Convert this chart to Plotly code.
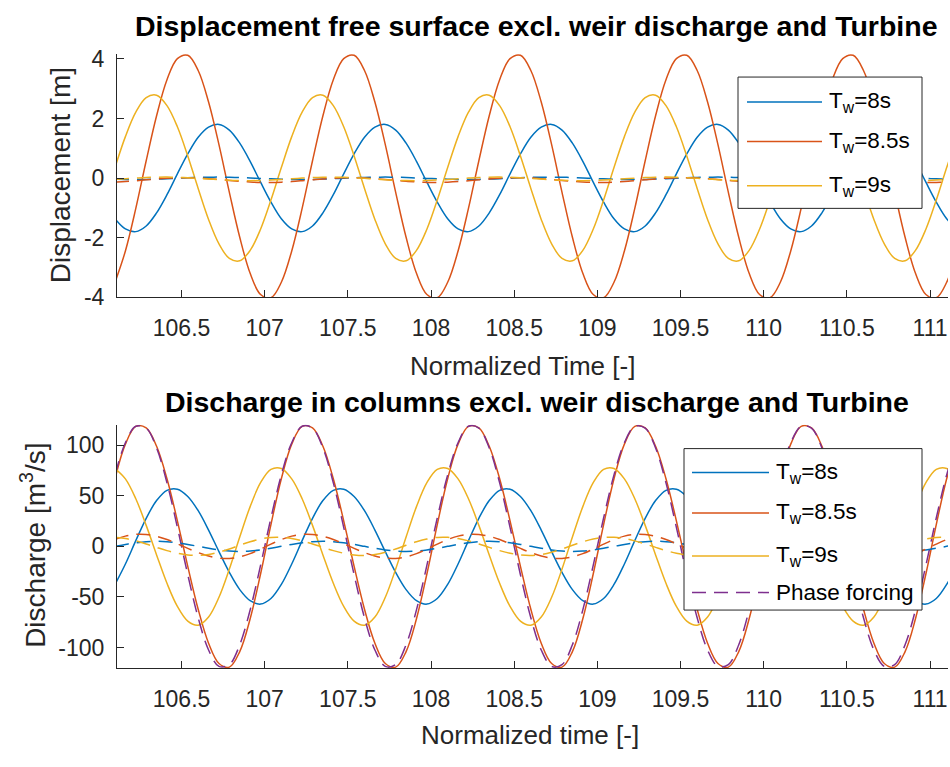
import plotly.graph_objects as go

# ---------------- data ----------------
T = [106.1, 106.1625, 106.225, 106.2875, 106.35, 106.4125, 106.475, 106.5375, 106.6, 106.6625, 106.725, 106.7875, 106.85, 106.9125, 106.975, 107.0375,
     107.1, 107.1625, 107.225, 107.2875, 107.35, 107.4125, 107.475, 107.5375, 107.6, 107.6625, 107.725, 107.7875, 107.85, 107.9125, 107.975, 108.0375,
     108.1, 108.1625, 108.225, 108.2875, 108.35, 108.4125, 108.475, 108.5375, 108.6, 108.6625, 108.725, 108.7875, 108.85, 108.9125, 108.975, 109.0375,
     109.1, 109.1625, 109.225, 109.2875, 109.35, 109.4125, 109.475, 109.5375, 109.6, 109.6625, 109.725, 109.7875, 109.85, 109.9125, 109.975, 110.0375,
     110.1, 110.1625, 110.225, 110.2875, 110.35, 110.4125, 110.475, 110.5375, 110.6, 110.6625, 110.725, 110.7875, 110.85, 110.9125, 110.975, 111.0375,
     111.1, 111.1625]

# Displacement [m]
DISP_TW8 = [-1.37, -1.71, -1.80, -1.61, -1.17, -0.56, 0.14, 0.81, 1.37, 1.71, 1.80, 1.61, 1.17, 0.56, -0.14, -0.81,
            -1.37, -1.71, -1.80, -1.61, -1.17, -0.56, 0.14, 0.81, 1.37, 1.71, 1.80, 1.61, 1.17, 0.56, -0.14, -0.81,
            -1.37, -1.71, -1.80, -1.61, -1.17, -0.56, 0.14, 0.81, 1.37, 1.71, 1.80, 1.61, 1.17, 0.56, -0.14, -0.81,
            -1.37, -1.71, -1.80, -1.61, -1.17, -0.56, 0.14, 0.81, 1.37, 1.71, 1.80, 1.61, 1.17, 0.56, -0.14, -0.81,
            -1.37, -1.71, -1.80, -1.61, -1.17, -0.56, 0.14, 0.81, 1.37, 1.71, 1.80, 1.61, 1.17, 0.56, -0.14, -0.81,
            -1.37, -1.71]
DISP_TW85 = [-3.50, -2.45, -1.02, 0.58, 2.09, 3.30, 4.01, 4.12, 3.61, 2.55, 1.12, -0.48, -1.99, -3.20, -3.91, -4.02,
             -3.50, -2.45, -1.02, 0.58, 2.09, 3.30, 4.01, 4.12, 3.61, 2.55, 1.12, -0.48, -1.99, -3.20, -3.91, -4.02,
             -3.50, -2.45, -1.02, 0.58, 2.09, 3.30, 4.01, 4.12, 3.61, 2.55, 1.12, -0.48, -1.99, -3.20, -3.91, -4.02,
             -3.50, -2.45, -1.02, 0.58, 2.09, 3.30, 4.01, 4.12, 3.61, 2.55, 1.12, -0.48, -1.99, -3.20, -3.91, -4.02,
             -3.50, -2.45, -1.02, 0.58, 2.09, 3.30, 4.01, 4.12, 3.61, 2.55, 1.12, -0.48, -1.99, -3.20, -3.91, -4.02,
             -3.50, -2.45]
DISP_TW9 = [0.35, 1.39, 2.21, 2.70, 2.78, 2.43, 1.72, 0.74, -0.35, -1.39, -2.21, -2.70, -2.78, -2.43, -1.72, -0.74,
            0.35, 1.39, 2.21, 2.70, 2.78, 2.43, 1.72, 0.74, -0.35, -1.39, -2.21, -2.70, -2.78, -2.43, -1.72, -0.74,
            0.35, 1.39, 2.21, 2.70, 2.78, 2.43, 1.72, 0.74, -0.35, -1.39, -2.21, -2.70, -2.78, -2.43, -1.72, -0.74,
            0.35, 1.39, 2.21, 2.70, 2.78, 2.43, 1.72, 0.74, -0.35, -1.39, -2.21, -2.70, -2.78, -2.43, -1.72, -0.74,
            0.35, 1.39, 2.21, 2.70, 2.78, 2.43, 1.72, 0.74, -0.35, -1.39, -2.21, -2.70, -2.78, -2.43, -1.72, -0.74,
            0.35, 1.39]
DISP_TW8_EXCL = [-0.040, -0.048, -0.050, -0.046, -0.036, -0.022, -0.007, 0.008, 0.020, 0.028, 0.030, 0.026, 0.016, 0.002, -0.013, -0.028,
                 -0.040, -0.048, -0.050, -0.046, -0.036, -0.022, -0.007, 0.008, 0.020, 0.028, 0.030, 0.026, 0.016, 0.002, -0.013, -0.028,
                 -0.040, -0.048, -0.050, -0.046, -0.036, -0.022, -0.007, 0.008, 0.020, 0.028, 0.030, 0.026, 0.016, 0.002, -0.013, -0.028,
                 -0.040, -0.048, -0.050, -0.046, -0.036, -0.022, -0.007, 0.008, 0.020, 0.028, 0.030, 0.026, 0.016, 0.002, -0.013, -0.028,
                 -0.040, -0.048, -0.050, -0.046, -0.036, -0.022, -0.007, 0.008, 0.020, 0.028, 0.030, 0.026, 0.016, 0.002, -0.013, -0.028,
                 -0.040, -0.048]
DISP_TW85_EXCL = [-0.139, -0.119, -0.091, -0.060, -0.030, -0.007, 0.007, 0.009, -0.001, -0.021, -0.049, -0.080, -0.110, -0.133, -0.147, -0.149,
                  -0.139, -0.119, -0.091, -0.060, -0.030, -0.007, 0.007, 0.009, -0.001, -0.021, -0.049, -0.080, -0.110, -0.133, -0.147, -0.149,
                  -0.139, -0.119, -0.091, -0.060, -0.030, -0.007, 0.007, 0.009, -0.001, -0.021, -0.049, -0.080, -0.110, -0.133, -0.147, -0.149,
                  -0.139, -0.119, -0.091, -0.060, -0.030, -0.007, 0.007, 0.009, -0.001, -0.021, -0.049, -0.080, -0.110, -0.133, -0.147, -0.149,
                  -0.139, -0.119, -0.091, -0.060, -0.030, -0.007, 0.007, 0.009, -0.001, -0.021, -0.049, -0.080, -0.110, -0.133, -0.147, -0.149,
                  -0.139, -0.119]
DISP_TW9_EXCL = [-0.049, -0.025, -0.003, 0.016, 0.027, 0.030, 0.023, 0.009, -0.011, -0.035, -0.057, -0.076, -0.087, -0.090, -0.083, -0.069,
                 -0.049, -0.025, -0.003, 0.016, 0.027, 0.030, 0.023, 0.009, -0.011, -0.035, -0.057, -0.076, -0.087, -0.090, -0.083, -0.069,
                 -0.049, -0.025, -0.003, 0.016, 0.027, 0.030, 0.023, 0.009, -0.011, -0.035, -0.057, -0.076, -0.087, -0.090, -0.083, -0.069,
                 -0.049, -0.025, -0.003, 0.016, 0.027, 0.030, 0.023, 0.009, -0.011, -0.035, -0.057, -0.076, -0.087, -0.090, -0.083, -0.069,
                 -0.049, -0.025, -0.003, 0.016, 0.027, 0.030, 0.023, 0.009, -0.011, -0.035, -0.057, -0.076, -0.087, -0.090, -0.083, -0.069,
                 -0.049, -0.025]

# Discharge [m^3/s]
Q_TW8 = [-37.6, -17.4, 5.6, 27.7, 45.2, 55.3, 56.4, 49.2, 35.2, 16.1, -5.2, -25.7, -42.7, -53.6, -57.0, -51.5,
         -37.6, -17.4, 5.6, 27.7, 45.2, 55.3, 56.4, 49.2, 35.2, 16.1, -5.2, -25.7, -42.7, -53.6, -57.0, -51.5,
         -37.6, -17.4, 5.6, 27.7, 45.2, 55.3, 56.4, 49.2, 35.2, 16.1, -5.2, -25.7, -42.7, -53.6, -57.0, -51.5,
         -37.6, -17.4, 5.6, 27.7, 45.2, 55.3, 56.4, 49.2, 35.2, 16.1, -5.2, -25.7, -42.7, -53.6, -57.0, -51.5,
         -37.6, -17.4, 5.6, 27.7, 45.2, 55.3, 56.4, 49.2, 35.2, 16.1, -5.2, -25.7, -42.7, -53.6, -57.0, -51.5,
         -37.6, -17.4]
Q_TW85 = [66.7, 100.9, 118.4, 116.9, 98.8, 66.7, 25.2, -19.8, -62.1, -95.6, -115.6, -119.2, -103.9, -71.5, -27.3, 21.5,
          66.7, 100.9, 118.4, 116.9, 98.8, 66.7, 25.2, -19.8, -62.1, -95.6, -115.6, -119.2, -103.9, -71.5, -27.3, 21.5,
          66.7, 100.9, 118.4, 116.9, 98.8, 66.7, 25.2, -19.8, -62.1, -95.6, -115.6, -119.2, -103.9, -71.5, -27.3, 21.5,
          66.7, 100.9, 118.4, 116.9, 98.8, 66.7, 25.2, -19.8, -62.1, -95.6, -115.6, -119.2, -103.9, -71.5, -27.3, 21.5,
          66.7, 100.9, 118.4, 116.9, 98.8, 66.7, 25.2, -19.8, -62.1, -95.6, -115.6, -119.2, -103.9, -71.5, -27.3, 21.5,
          66.7, 100.9]
Q_TW9 = [76.9, 66.6, 47.0, 20.7, -8.5, -36.5, -59.3, -73.8, -77.9, -69.8, -50.3, -22.4, 9.2, 39.2, 62.8, 76.0,
         76.9, 66.6, 47.0, 20.7, -8.5, -36.5, -59.3, -73.8, -77.9, -69.8, -50.3, -22.4, 9.2, 39.2, 62.8, 76.0,
         76.9, 66.6, 47.0, 20.7, -8.5, -36.5, -59.3, -73.8, -77.9, -69.8, -50.3, -22.4, 9.2, 39.2, 62.8, 76.0,
         76.9, 66.6, 47.0, 20.7, -8.5, -36.5, -59.3, -73.8, -77.9, -69.8, -50.3, -22.4, 9.2, 39.2, 62.8, 76.0,
         76.9, 66.6, 47.0, 20.7, -8.5, -36.5, -59.3, -73.8, -77.9, -69.8, -50.3, -22.4, 9.2, 39.2, 62.8, 76.0,
         76.9, 66.6]
Q_PHASE = [70.5, 102.3, 118.5, 116.7, 97.1, 62.7, 18.8, -28.0, -70.5, -102.3, -118.5, -116.7, -97.1, -62.7, -18.8, 28.0,
           70.5, 102.3, 118.5, 116.7, 97.1, 62.7, 18.8, -28.0, -70.5, -102.3, -118.5, -116.7, -97.1, -62.7, -18.8, 28.0,
           70.5, 102.3, 118.5, 116.7, 97.1, 62.7, 18.8, -28.0, -70.5, -102.3, -118.5, -116.7, -97.1, -62.7, -18.8, 28.0,
           70.5, 102.3, 118.5, 116.7, 97.1, 62.7, 18.8, -28.0, -70.5, -102.3, -118.5, -116.7, -97.1, -62.7, -18.8, 28.0,
           70.5, 102.3, 118.5, 116.7, 97.1, 62.7, 18.8, -28.0, -70.5, -102.3, -118.5, -116.7, -97.1, -62.7, -18.8, 28.0,
           70.5, 102.3]
Q_TW8_EXCL = [0.0, 1.9, 3.5, 4.6, 5.0, 4.6, 3.5, 1.9, 0.0, -1.9, -3.5, -4.6, -5.0, -4.6, -3.5, -1.9,
              0.0, 1.9, 3.5, 4.6, 5.0, 4.6, 3.5, 1.9, 0.0, -1.9, -3.5, -4.6, -5.0, -4.6, -3.5, -1.9,
              0.0, 1.9, 3.5, 4.6, 5.0, 4.6, 3.5, 1.9, 0.0, -1.9, -3.5, -4.6, -5.0, -4.6, -3.5, -1.9,
              0.0, 1.9, 3.5, 4.6, 5.0, 4.6, 3.5, 1.9, 0.0, -1.9, -3.5, -4.6, -5.0, -4.6, -3.5, -1.9,
              0.0, 1.9, 3.5, 4.6, 5.0, 4.6, 3.5, 1.9, 0.0, -1.9, -3.5, -4.6, -5.0, -4.6, -3.5, -1.9,
              0.0, 1.9]
Q_TW85_EXCL = [6.7, 10.1, 11.8, 11.7, 9.9, 6.7, 2.5, -2.0, -6.2, -9.6, -11.6, -11.9, -10.4, -7.2, -2.7, 2.2,
               6.7, 10.1, 11.8, 11.7, 9.9, 6.7, 2.5, -2.0, -6.2, -9.6, -11.6, -11.9, -10.4, -7.2, -2.7, 2.2,
               6.7, 10.1, 11.8, 11.7, 9.9, 6.7, 2.5, -2.0, -6.2, -9.6, -11.6, -11.9, -10.4, -7.2, -2.7, 2.2,
               6.7, 10.1, 11.8, 11.7, 9.9, 6.7, 2.5, -2.0, -6.2, -9.6, -11.6, -11.9, -10.4, -7.2, -2.7, 2.2,
               6.7, 10.1, 11.8, 11.7, 9.9, 6.7, 2.5, -2.0, -6.2, -9.6, -11.6, -11.9, -10.4, -7.2, -2.7, 2.2,
               6.7, 10.1]
Q_TW9_EXCL = [8.9, 7.7, 5.4, 2.4, -1.0, -4.2, -6.8, -8.5, -9.0, -8.1, -5.8, -2.6, 1.1, 4.5, 7.2, 8.8,
              8.9, 7.7, 5.4, 2.4, -1.0, -4.2, -6.8, -8.5, -9.0, -8.1, -5.8, -2.6, 1.1, 4.5, 7.2, 8.8,
              8.9, 7.7, 5.4, 2.4, -1.0, -4.2, -6.8, -8.5, -9.0, -8.1, -5.8, -2.6, 1.1, 4.5, 7.2, 8.8,
              8.9, 7.7, 5.4, 2.4, -1.0, -4.2, -6.8, -8.5, -9.0, -8.1, -5.8, -2.6, 1.1, 4.5, 7.2, 8.8,
              8.9, 7.7, 5.4, 2.4, -1.0, -4.2, -6.8, -8.5, -9.0, -8.1, -5.8, -2.6, 1.1, 4.5, 7.2, 8.8,
              8.9, 7.7]

X_TICKS = [106.5, 107, 107.5, 108, 108.5, 109, 109.5, 110, 110.5, 111]
X_TICK_TEXT = ["106.5", "107", "107.5", "108", "108.5", "109", "109.5", "110", "110.5", "111"]
Y1_TICKS = [-4, -2, 0, 2, 4]
Y1_TICK_TEXT = ["-4", "-2", "0", "2", "4"]
Y2_TICKS = [-100, -50, 0, 50, 100]
Y2_TICK_TEXT = ["-100", "-50", "0", "50", "100"]

LEGEND_TOP = ["T<sub>w</sub>=8s", "T<sub>w</sub>=8.5s", "T<sub>w</sub>=9s"]
LEGEND_BOTTOM = ["T<sub>w</sub>=8s", "T<sub>w</sub>=8.5s", "T<sub>w</sub>=9s", "Phase forcing"]

# ---------------- styling ----------------
W, H = 950, 767
def px(x):
    return x / W
def py(y):
    return 1 - y / H

BLUE, RED, YEL, PUR = "#0072BD", "#D95319", "#EDB120", "#7E2F8E"
AX = "#262626"
FONT = "Liberation Sans, Arial, sans-serif"
DASH = "14px,8px"
LW = 1.5

fig = go.Figure()

def add(y, color, dash, xa, ya):
    fig.add_trace(go.Scatter(x=T, y=y, mode="lines",
                             line=dict(color=color, width=LW, dash=dash, shape="spline", smoothing=1),
                             xaxis=xa, yaxis=ya, showlegend=False, hoverinfo="skip"))

# top panel
add(DISP_TW8, BLUE, "solid", "x", "y")
add(DISP_TW85, RED, "solid", "x", "y")
add(DISP_TW9, YEL, "solid", "x", "y")
add(DISP_TW8_EXCL, BLUE, DASH, "x", "y")
add(DISP_TW85_EXCL, RED, DASH, "x", "y")
add(DISP_TW9_EXCL, YEL, DASH, "x", "y")
# bottom panel
add(Q_TW8, BLUE, "solid", "x2", "y2")
add(Q_TW85, RED, "solid", "x2", "y2")
add(Q_TW9, YEL, "solid", "x2", "y2")
add(Q_PHASE, PUR, DASH, "x2", "y2")
add(Q_TW8_EXCL, BLUE, DASH, "x2", "y2")
add(Q_TW85_EXCL, RED, DASH, "x2", "y2")
add(Q_TW9_EXCL, YEL, DASH, "x2", "y2")

axis_common = dict(showline=True, linecolor=AX, linewidth=1, ticks="inside", ticklen=7,
                   tickwidth=1, tickcolor=AX, showgrid=False, zeroline=False, mirror=False,
                   tickfont=dict(family=FONT, size=23, color=AX))

XDOM = [px(117), px(948)]
fig.update_layout(
    width=W, height=H, margin=dict(l=0, r=0, t=0, b=0),
    paper_bgcolor="white", plot_bgcolor="white", showlegend=False,
    xaxis=dict(domain=XDOM, range=[106.112, 111.108], anchor="y", tickvals=X_TICKS,
               ticktext=X_TICK_TEXT, ticklabelstandoff=10, **axis_common),
    yaxis=dict(domain=[py(297.3), py(47.1)], range=[-4, 4.17], anchor="x", tickvals=Y1_TICKS,
               ticktext=Y1_TICK_TEXT, ticklabelstandoff=7, **axis_common),
    xaxis2=dict(domain=XDOM, range=[106.112, 111.108], anchor="y2", tickvals=X_TICKS,
                ticktext=X_TICK_TEXT, ticklabelstandoff=10, **axis_common),
    yaxis2=dict(domain=[py(678.5), py(428.5)], range=[-120, 120], anchor="x2", tickvals=Y2_TICKS,
                ticktext=Y2_TICK_TEXT, ticklabelstandoff=7, **axis_common),
)

shapes = []
annotations = []

def text(s, x, y, size, color=AX, bold=False, angle=0, xanchor="center", yanchor="middle"):
    annotations.append(dict(text=("<b>%s</b>" % s) if bold else s, x=px(x), y=py(y),
                            xref="paper", yref="paper", showarrow=False, textangle=angle,
                            xanchor=xanchor, yanchor=yanchor,
                            font=dict(family=FONT, size=size, color=color)))

# titles and axis labels
text("Displacement free surface excl. weir discharge and Turbine", 536, 18, 28.5, color="#000000", bold=True)
text("Discharge in columns excl. weir discharge and Turbine", 537, 405, 28.5, color="#000000", bold=True)
text("Normalized Time [-]", 522, 368, 26)
text("Normalized time [-]", 530, 747, 26)
text("Displacement [m]", 60, 172, 28, angle=-90)
text("Discharge [m<sup>3</sup>/s]", 33, 553, 28, angle=-90)

# legends
def legend(box, line_x, text_x, rows, labels, colors, dashes):
    x0, y0, x1, y1 = box
    shapes.append(dict(type="rect", xref="paper", yref="paper", x0=px(x0), x1=px(x1), y0=py(y1), y1=py(y0),
                       line=dict(color=AX, width=1), fillcolor="white", layer="above"))
    for ry, lab, col, d in zip(rows, labels, colors, dashes):
        shapes.append(dict(type="line", xref="paper", yref="paper", x0=px(line_x[0]), x1=px(line_x[1]),
                           y0=py(ry), y1=py(ry), line=dict(color=col, width=LW, dash=d), layer="above"))
        text(lab, text_x, ry, 22.5, color="#000000", xanchor="left")

legend((738, 71, 922, 206), (747, 822), 827, [96.7, 137.3, 182.7], LEGEND_TOP,
       [BLUE, RED, YEL], ["solid", "solid", "solid"])
legend((684, 453, 922, 619), (692, 769), 774, [477.7, 519.3, 563.3, 601.0], LEGEND_BOTTOM,
       [BLUE, RED, YEL, PUR], ["solid", "solid", "solid", DASH])

fig.update_layout(shapes=shapes, annotations=annotations)
fig.write_html("out.html")
